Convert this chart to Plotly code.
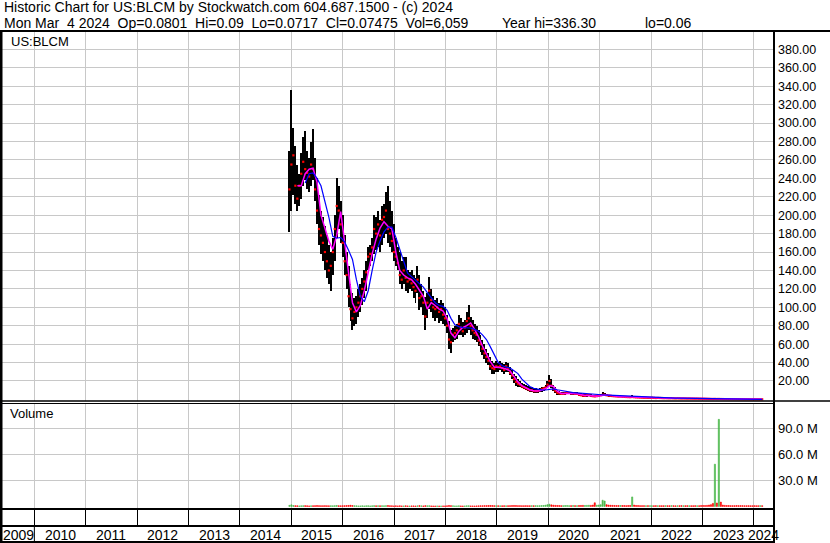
import plotly.graph_objects as go
import pandas as pd

# ---------------- data ----------------
start_date = "2014-12-19"      # first bi-weekly bar
n_bars = 241
bar_step = "14D"

highs = [
    270, 336, 295, 275, 255, 245, 268, 285, 291, 270,
    262, 280, 294, 262, 240, 222, 205, 198, 188, 178,
    168, 160, 175, 200, 240, 232, 215, 200, 178, 160,
    145, 125, 115, 110, 112, 120, 125, 132, 140, 150,
    165, 168, 175, 200, 198, 205, 195, 210, 212, 225,
    232, 215, 205, 190, 175, 165, 160, 150, 155, 155,
    140, 138, 140, 135, 132, 145, 135, 125, 118, 111,
    115, 133, 120, 112, 108, 110, 105, 108, 105, 100,
    92, 85, 75, 78, 80, 82, 92, 88, 84, 86,
    95, 102, 90, 86, 82, 80, 75, 70, 65, 60,
    55, 50, 46, 42, 40, 42, 40, 42, 40, 38,
    41, 40, 35, 32, 28, 25, 22, 20, 18, 17,
    16, 15, 14, 13, 12, 12, 11, 12, 13, 14,
    16, 20, 27, 22, 16, 13, 10, 9, 8.5, 8,
    8, 9, 8.5, 8, 8, 8.5, 8, 7, 6.5, 6,
    5.5, 6, 6, 5.5, 5, 4.5, 4.5, 5, 6, 7.7,
    7, 6, 5, 4.5, 4.5, 4.2, 4, 4, 3.8, 3.6,
    3.5, 3.4, 3.3, 3.2, 4.5, 3.5, 3, 2.8, 2.7, 2.6,
    2.5, 2.4, 2.3, 2.2, 2.4, 2.2, 2.0, 2.1, 2.0, 1.9,
    1.8, 1.8, 1.7, 1.65, 1.7, 1.6, 1.5, 1.55, 1.45, 1.35,
    1.35, 1.3, 1.25, 1.25, 1.15, 1.1, 1.05, 1.08, 1.0, 0.95,
    0.92, 0.88, 0.8, 0.74, 0.68, 0.62, 0.75, 0.62, 0.7, 0.58,
    0.5, 0.46, 0.43, 0.4, 0.36, 0.33, 0.3, 0.27, 0.24, 0.21,
    0.2, 0.18, 0.16, 0.15, 0.13, 0.12, 0.115, 0.11, 0.1, 0.1,
    0.09,
]

lows = [
    182, 205, 222, 212, 205, 210, 218, 232, 238, 228,
    225, 232, 238, 215, 190, 168, 158, 150, 140, 132,
    125, 118, 135, 150, 175, 185, 170, 155, 135, 120,
    100, 85, 75, 80, 82, 90, 95, 102, 110, 118,
    140, 145, 150, 158, 162, 165, 160, 168, 175, 180,
    170, 165, 160, 150, 145, 140, 125, 120, 125, 118,
    115, 120, 118, 110, 105, 115, 97, 100, 92, 75,
    88, 98, 95, 88, 85, 88, 83, 85, 82, 80,
    72, 55, 50, 62, 64, 66, 70, 70, 68, 70,
    72, 75, 70, 66, 64, 62, 58, 52, 48, 44,
    40, 37, 32, 28, 28, 30, 30, 32, 30, 28,
    30, 30, 26, 22, 18, 15, 14, 13, 12, 11,
    10, 9, 8, 8, 7, 7, 7, 8, 8, 9,
    10, 12, 15, 12, 9, 7, 5, 5, 5, 4.5,
    5, 5.5, 5.5, 5, 5, 5, 4.5, 4, 3.5, 3,
    3, 3, 3.5, 3, 2.5, 2.5, 2.5, 3, 3.5, 4,
    4, 3.5, 3, 3, 3, 2.8, 2.6, 2.5, 2.4, 2.3,
    2.2, 2.2, 2.1, 2, 2, 2, 1.8, 1.7, 1.6, 1.5,
    1.5, 1.4, 1.4, 1.4, 1.5, 1.4, 1.3, 1.35, 1.3, 1.2,
    1.1, 1.15, 1.1, 1.05, 1.05, 1.0, 0.92, 0.98, 0.9, 0.82,
    0.85, 0.82, 0.76, 0.78, 0.72, 0.7, 0.66, 0.68, 0.62, 0.6,
    0.58, 0.55, 0.5, 0.45, 0.42, 0.4, 0.42, 0.38, 0.4, 0.35,
    0.32, 0.3, 0.28, 0.26, 0.23, 0.21, 0.19, 0.17, 0.15, 0.14,
    0.13, 0.115, 0.105, 0.095, 0.088, 0.082, 0.078, 0.074, 0.07, 0.072,
    0.0717,
]

closes = [
    228, 255, 265, 232, 218, 232, 245, 258, 250, 246,
    242, 255, 250, 228, 205, 185, 178, 170, 160, 150,
    140, 145, 160, 185, 210, 205, 190, 170, 150, 135,
    112, 98, 88, 95, 100, 105, 112, 120, 128, 138,
    155, 158, 165, 185, 180, 190, 178, 195, 198, 205,
    185, 180, 172, 160, 155, 148, 135, 130, 140, 132,
    128, 130, 126, 122, 118, 130, 110, 112, 105, 90,
    105, 118, 108, 100, 98, 100, 95, 98, 92, 88,
    80, 65, 62, 70, 72, 75, 82, 78, 74, 78,
    85, 88, 80, 75, 72, 70, 64, 60, 55, 50,
    46, 42, 36, 34, 33, 36, 35, 36, 34, 32,
    36, 33, 29, 26, 22, 19, 17, 16, 14, 13,
    12, 11, 10, 10, 9, 9, 9, 10, 11, 12,
    13, 16, 20, 15, 11, 9, 7, 6.5, 6, 6,
    6.5, 7, 7, 6.5, 6.5, 6, 6, 5, 4.5, 4,
    4, 4.5, 4.5, 4, 3.5, 3.2, 3.5, 4, 4.5, 5,
    5, 4.5, 4, 3.8, 3.6, 3.4, 3.2, 3, 3, 2.8,
    2.7, 2.6, 2.5, 2.4, 2.6, 2.4, 2.2, 2.1, 2, 1.9,
    1.8, 1.8, 1.7, 1.7, 1.8, 1.65, 1.5, 1.6, 1.55, 1.45,
    1.35, 1.4, 1.3, 1.25, 1.3, 1.2, 1.1, 1.2, 1.1, 1.0,
    1.05, 1.0, 0.92, 0.95, 0.88, 0.85, 0.8, 0.82, 0.75, 0.72,
    0.70, 0.66, 0.60, 0.55, 0.50, 0.46, 0.52, 0.45, 0.50, 0.42,
    0.38, 0.35, 0.33, 0.30, 0.27, 0.25, 0.22, 0.20, 0.18, 0.16,
    0.15, 0.13, 0.12, 0.11, 0.10, 0.095, 0.09, 0.085, 0.08, 0.082,
    0.075,
]

volumes_m = [
    1.2, 1.8, 1.0, 0.8, 0.7, 0.6, 0.7, 0.8, 0.9, 0.7,
    0.6, 0.7, 0.8, 0.9, 1.0, 0.9, 0.8, 0.8, 0.9, 0.8,
    0.7, 0.8, 0.7, 0.9, 1.1, 0.8, 0.7, 0.8, 0.9, 1.0,
    1.1, 1.3, 1.0, 0.8, 0.7, 0.6, 0.6, 0.7, 0.6, 0.7,
    0.8, 0.6, 0.7, 0.9, 0.7, 0.8, 0.7, 0.8, 0.7, 0.9,
    1.0, 0.8, 0.7, 0.6, 0.7, 0.6, 0.7, 0.6, 0.6, 0.7,
    0.6, 0.5, 0.6, 0.6, 0.5, 0.7, 0.9, 0.7, 0.6, 0.9,
    0.7, 0.8, 0.6, 0.5, 0.5, 0.6, 0.5, 0.5, 0.6, 0.6,
    0.7, 1.1, 0.9, 0.7, 0.6, 0.6, 0.7, 0.6, 0.5, 0.6,
    0.7, 0.8, 0.6, 0.6, 0.5, 0.6, 0.7, 0.8, 0.8, 0.9,
    0.9, 1.0, 1.1, 1.0, 0.9, 0.8, 0.8, 0.7, 0.7, 0.8,
    0.7, 0.8, 0.9, 1.0, 1.1, 1.0, 0.9, 0.9, 0.8, 0.8,
    0.9, 0.8, 0.8, 0.9, 0.8, 0.9, 0.8, 0.9, 1.0, 1.1,
    1.4, 2.0, 2.5, 1.8, 1.4, 1.2, 1.1, 1.0, 0.9, 0.9,
    1.0, 1.1, 0.9, 0.9, 1.0, 0.9, 0.9, 1.0, 1.1, 1.2,
    1.1, 1.2, 1.3, 1.2, 1.5, 4.2, 1.4, 1.6, 2.0, 7.2,
    6.3, 2.0, 1.5, 1.3, 1.2, 1.1, 1.0, 1.0, 1.1, 1.0,
    1.0, 0.9, 1.0, 1.1, 11.0, 1.5, 1.1, 1.0, 0.9, 0.9,
    0.9, 0.8, 0.9, 0.9, 0.8, 0.8, 0.9, 0.8, 0.8, 0.8,
    0.8, 0.9, 0.8, 0.8, 0.9, 0.8, 0.7, 0.8, 0.8, 0.9,
    0.8, 0.8, 0.9, 0.8, 0.8, 0.8, 0.9, 0.8, 0.8, 1.0,
    1.1, 1.0, 1.2, 1.5, 2.0, 3.5, 49.0, 4.0, 101.0, 5.0,
    1.5, 1.2, 1.0, 1.0, 0.9, 0.9, 0.9, 1.0, 0.9, 0.9,
    0.9, 0.8, 0.8, 0.9, 0.8, 0.8, 0.9, 0.8, 0.8, 0.9,
    0.8,
]

# short moving average (magenta), one value every 2nd bar starting at bar 4
magenta_start = 4
magenta_ma = [
    232, 232, 245, 250, 251, 236, 200, 186, 172, 163,
    178, 204, 170, 140, 105, 95, 102, 118, 140, 158,
    174, 186, 193, 188, 185, 160, 140, 135, 132, 130,
    125, 118, 112, 98, 105, 102, 98, 96, 88, 72,
    67, 74, 78, 80, 83, 76, 68, 58, 49, 41,
    35, 35, 34, 33, 31, 25, 19, 15, 12.5, 10.5,
    9.5, 9, 10, 11.5, 15, 14, 9, 6.5, 6.3, 6.6,
    6.5, 6.2, 5.2, 4.3, 4.3, 3.8, 3.4, 4.0, 4.8, 4.5,
    3.8, 3.3, 3.0, 2.8, 2.6, 2.5, 2.4, 2.1, 1.9, 1.8,
    1.75, 1.6, 1.55, 1.4, 1.35, 1.25, 1.2, 1.12, 1.05, 0.98,
    0.9, 0.85, 0.78, 0.7, 0.62, 0.5, 0.45, 0.45, 0.38, 0.32,
    0.27, 0.22, 0.18, 0.15, 0.13, 0.11, 0.09, 0.085, 0.08,
]

# long moving average (blue), one value every 2nd bar starting at bar 8
blue_start = 8
blue_ma = [
    235, 245, 246, 240, 232, 215, 198, 177, 175, 176,
    171, 162, 152, 130, 112, 106, 118, 140, 160, 172,
    182, 187, 187, 176, 162, 150, 137, 133, 130, 125,
    122, 116, 110, 105, 102, 101, 97, 88, 81, 79,
    78, 77.5, 77.5, 76, 74, 70, 65, 57, 48, 40,
    36.5, 35.5, 34, 31, 28, 22, 17.5, 14, 12, 11,
    10.3, 10.2, 11, 11.5, 10.5, 9.5, 8.5, 7.8, 7.3, 7,
    6.6, 6.5, 6, 5.6, 5.4, 5, 4.8, 4.7, 4.5, 4.2,
    3.8, 3.4, 3.1, 2.8, 2.6, 2.4, 2.2, 2.0, 1.9, 1.85,
    1.75, 1.65, 1.55, 1.45, 1.35, 1.28, 1.2, 1.12, 1.05, 0.98,
    0.9, 0.82, 0.75, 0.67, 0.6, 0.53, 0.47, 0.42, 0.37, 0.32,
    0.27, 0.23, 0.19, 0.16, 0.13, 0.11, 0.1,
]

price_ticks = [20, 40, 60, 80, 100, 120, 140, 160, 180, 200,
               220, 240, 260, 280, 300, 320, 340, 360, 380]
volume_ticks = [30, 60, 90]
volume_tick_labels = ["30.0 M", "60.0 M", "90.0 M"]
year_labels = [2009, 2010, 2011, 2012, 2013, 2014, 2015, 2016,
               2017, 2018, 2019, 2020, 2021, 2022, 2023, 2024]

x_range = ["2009-05-16", "2024-05-24"]
price_range = [-1.74, 400]
volume_range = [-3.0, 120.0]

symbol_label = "US:BLCM"
volume_label = "Volume"
header_1 = "Historic Chart for US:BLCM by Stockwatch.com 604.687.1500 - (c) 2024"
header_2_parts = ["Mon Mar  4 2024  Op=0.0801  Hi=0.09  Lo=0.0717  Cl=0.07475  Vol=6,059",
                  "Year hi=336.30",
                  "lo=0.06"]

# ---------------- derived ----------------
dates = pd.date_range(start_date, periods=n_bars, freq=bar_step)
hl_span = [h - l for h, l in zip(highs, lows)]
vol_colors = ["#4cb84c" if i == 0 or c >= closes[i - 1] else "#ff0000"
              for i, c in enumerate(closes)]
magenta_dates = dates[magenta_start::2][:len(magenta_ma)]
blue_dates = dates[blue_start::2][:len(blue_ma)]
bar_ms = 14 * 86400000

# ---------------- layout geometry (pixels) ----------------
W, H = 830, 543
L, R, T, B = 2, 774, 31, 509


def px(x):
    return (x - L) / (R - L)


def py(y):
    return (B - y) / (B - T)


FONT = "Liberation Sans, Arial, sans-serif"
NARROW = "Liberation Sans Narrow, Arial Narrow, Liberation Sans, sans-serif"
GRID = "#c8c8c8"

fig = go.Figure()

fig.add_trace(go.Bar(x=dates, y=hl_span, base=lows, width=bar_ms,
                     marker=dict(color="#000000", line=dict(width=0)),
                     xaxis="x", yaxis="y", hoverinfo="skip"))
fig.add_trace(go.Scatter(x=dates, y=closes, mode="markers",
                         marker=dict(symbol="square", size=2.2, color="#ff0000",
                                     line=dict(width=0)),
                         xaxis="x", yaxis="y", hoverinfo="skip"))
fig.add_trace(go.Scatter(x=magenta_dates, y=magenta_ma, mode="lines",
                         line=dict(color="#ff00ff", width=1.5),
                         xaxis="x", yaxis="y", hoverinfo="skip"))
fig.add_trace(go.Scatter(x=blue_dates, y=blue_ma, mode="lines",
                         line=dict(color="#0000ff", width=1.2),
                         xaxis="x", yaxis="y", hoverinfo="skip"))
fig.add_trace(go.Bar(x=dates, y=volumes_m, width=bar_ms * 0.6,
                     marker=dict(color=vol_colors,
                                 line=dict(width=0.6, color=vol_colors)),
                     xaxis="x", yaxis="y2", hoverinfo="skip"))

year_starts = [pd.Timestamp(year=y, month=1, day=1) for y in year_labels[1:]]
r0, r1 = pd.Timestamp(x_range[0]), pd.Timestamp(x_range[1])

annotations = []
for y in year_labels:
    s = max(pd.Timestamp(year=y, month=1, day=1), r0)
    e = min(pd.Timestamp(year=y + 1, month=1, day=1), r1)
    annotations.append(dict(x=s + (e - s) / 2, xref="x", y=py(534.5), yref="paper",
                            text=str(y), showarrow=False, xanchor="center",
                            yanchor="middle",
                            font=dict(family=NARROW, size=14, color="#000")))

HFONT = dict(family=FONT, size=14, color="#000")
annotations += [
    dict(x=px(2), y=py(7), xref="paper", yref="paper", text=header_1,
         showarrow=False, xanchor="left", yanchor="middle", font=HFONT),
    dict(x=px(2), y=py(23), xref="paper", yref="paper",
         text=header_2_parts[0].replace("  ", " \u00a0"),
         showarrow=False, xanchor="left", yanchor="middle", font=HFONT),
    dict(x=px(500), y=py(23), xref="paper", yref="paper",
         text=header_2_parts[1],
         showarrow=False, xanchor="left", yanchor="middle", font=HFONT),
    dict(x=px(694), y=py(23), xref="paper", yref="paper",
         text=header_2_parts[2],
         showarrow=False, xanchor="right", yanchor="middle", font=HFONT),
    dict(x=px(9), y=py(42), xref="paper", yref="paper", text=symbol_label,
         showarrow=False, xanchor="left", yanchor="middle",
         font=dict(family=FONT, size=13, color="#000")),
    dict(x=px(8), y=py(413), xref="paper", yref="paper", text=volume_label,
         showarrow=False, xanchor="left", yanchor="middle",
         font=dict(family=FONT, size=13, color="#000")),
]


def hline(y, x0, x1, w):
    return dict(type="line", xref="paper", yref="paper", x0=px(x0), x1=px(x1),
                y0=py(y), y1=py(y), line=dict(color="#000", width=w), layer="above")


def vline(x, y0, y1, w):
    return dict(type="line", xref="paper", yref="paper", x0=px(x), x1=px(x),
                y0=py(y0), y1=py(y1), line=dict(color="#000", width=w), layer="above")


shapes = [
    hline(31, 0, 830, 2),
    vline(1, 31, 543, 3),
    vline(774, 31, 543, 2),
    hline(401, 0, 830, 1.5),
    hline(403.5, 0, 774, 1),
    hline(509, 0, 774, 2),
    hline(526, 0, 774, 2),
    hline(542, 0, 774, 2),
    dict(type="line", xref="x", yref="paper", x0=year_starts[0], x1=year_starts[0],
         y0=py(526), y1=py(542), line=dict(color="#000", width=1)),
]

fig.update_layout(
    width=W, height=H,
    margin=dict(l=L, r=W - R, t=T, b=H - B),
    paper_bgcolor="#ffffff", plot_bgcolor="#ffffff",
    showlegend=False, barmode="overlay", bargap=0,
    font=dict(family=FONT, color="#000"),
    xaxis=dict(type="date", range=x_range, domain=[0, 1], anchor="y2",
               tickvals=year_starts, showticklabels=False,
               ticks="outside", ticklen=17, tickcolor="#000", tickwidth=1,
               showgrid=True, gridcolor=GRID, gridwidth=1,
               showline=False, zeroline=False, fixedrange=True),
    yaxis=dict(domain=[py(401), 1], range=price_range, side="right",
               anchor="x", tickvals=price_ticks, tickformat=".2f",
               showgrid=True, gridcolor=GRID, gridwidth=1, zeroline=False,
               showline=False, ticks="", ticklabelstandoff=3,
               tickfont=dict(family=FONT, size=12.5, color="#000")),
    yaxis2=dict(domain=[0, py(403)], range=volume_range, side="right",
                anchor="x", tickvals=volume_ticks, ticktext=volume_tick_labels,
                showgrid=True, gridcolor=GRID, gridwidth=1, zeroline=False,
                showline=False, ticks="", ticklabelstandoff=3,
                tickfont=dict(family=FONT, size=13, color="#000")),
    annotations=annotations,
    shapes=shapes,
)

fig.write_html("out.html",
               config={"displayModeBar": False, "staticPlot": True},
               post_script="document.body.style.margin='0';"
                           "document.body.style.overflow='hidden';")
